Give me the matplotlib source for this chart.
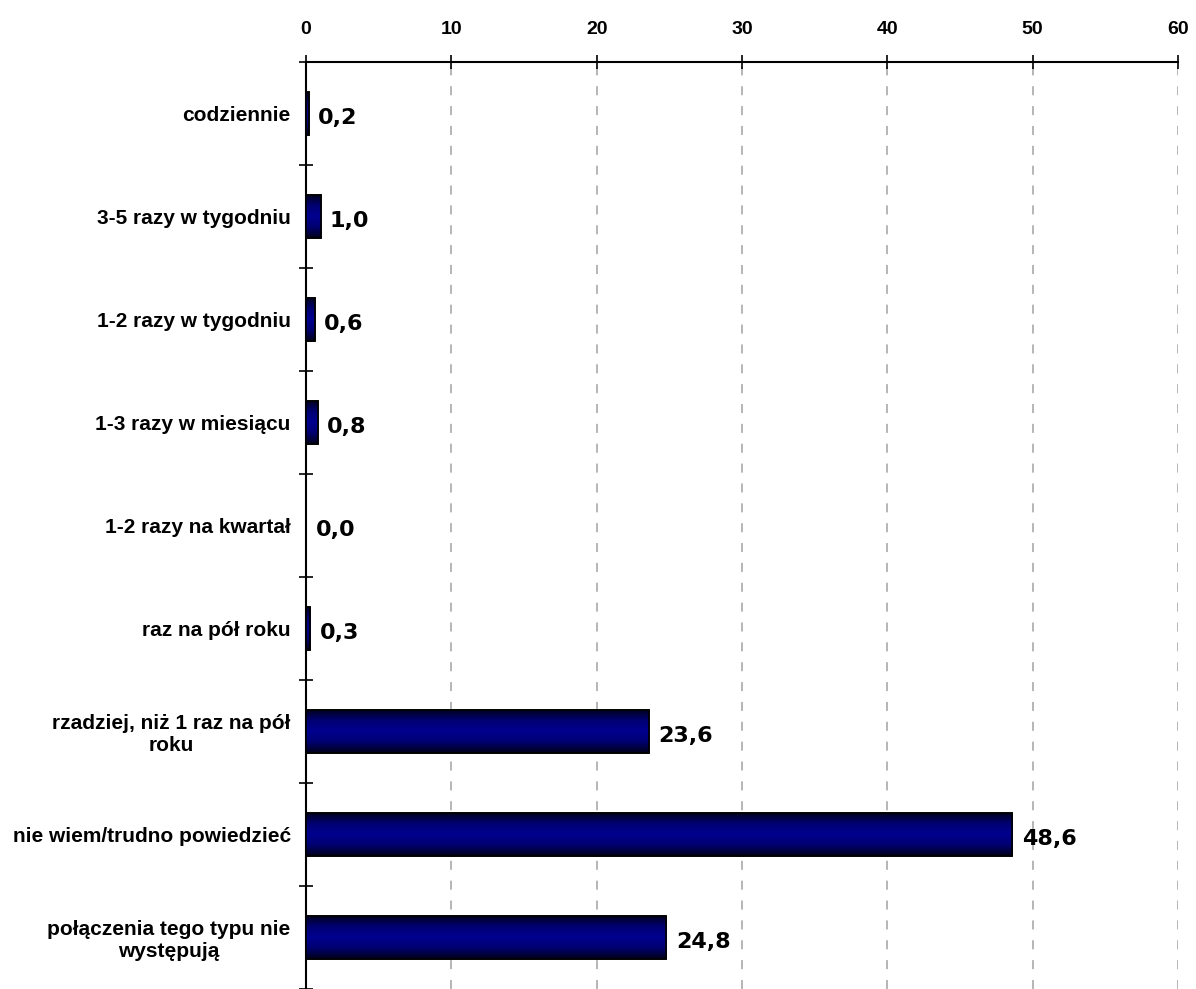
import matplotlib
matplotlib.use("Agg")
import matplotlib.pyplot as plt
import numpy as np
from matplotlib.colors import LinearSegmentedColormap

categories = [
    "codziennie",
    "3-5 razy w tygodniu",
    "1-2 razy w tygodniu",
    "1-3 razy w miesiącu",
    "1-2 razy na kwartał",
    "raz na pół roku",
    "rzadziej, niż 1 raz na pół\nroku",
    "nie wiem/trudno powiedzieć",
    "połączenia tego typu nie\nwystępują",
]
values = [0.2, 1.0, 0.6, 0.8, 0.0, 0.3, 23.6, 48.6, 24.8]
value_labels = ["0,2", "1,0", "0,6", "0,8", "0,0", "0,3", "23,6", "48,6", "24,8"]
xticks = [0, 10, 20, 30, 40, 50, 60]

fig = plt.figure(figsize=(11.96, 9.89), dpi=100)
ax = fig.add_axes([306/1196, 0.0, (1178-306)/1196, 1 - 62/989])

n = len(categories)
ypos = np.arange(n)
bar_h = 0.42

cmap = LinearSegmentedColormap.from_list("navy", ["#000018", "#000070", "#000090", "#000070", "#000018"])
grad = np.linspace(0, 1, 256).reshape(-1, 1)

bars = ax.barh(ypos, values, height=bar_h, color="#000080", edgecolor="black", linewidth=1.2, zorder=3)
for b in bars:
    w = b.get_width()
    if w <= 0:
        continue
    x0, y0 = b.get_x(), b.get_y()
    im = ax.imshow(grad, cmap=cmap, aspect="auto", extent=[x0, x0 + w, y0 + b.get_height(), y0],
                   zorder=3.5, interpolation="bilinear")
    im.set_clip_path(b)
    b2 = plt.Rectangle((x0, y0), w, b.get_height(), fill=False, edgecolor="black", linewidth=1.2, zorder=4)
    ax.add_patch(b2)

for y, v, lab in zip(ypos, values, value_labels):
    ax.text(v + 0.65, y + 0.04, lab, va="center", ha="left", fontsize=16, fontweight="bold",
            family="DejaVu Sans", color="black", zorder=5)

ax.set_xlim(0, 60)
ax.set_ylim(n - 0.5, -0.5)
ax.set_xticks(xticks)
ax.xaxis.tick_top()
ax.tick_params(axis="x", which="major", direction="inout", length=10, width=1.2, pad=12,
               labelsize=14)
for t in ax.get_xticklabels():
    t.set_fontweight("bold")
    t.set_family("Liberation Sans")

ax.set_yticks(ypos)
ax.set_yticklabels(categories, fontsize=15, fontweight="bold", family="Liberation Sans")
ax.tick_params(axis="y", which="major", length=0, pad=11)
ax.set_yticks(np.arange(n + 1) - 0.5, minor=True)
ax.tick_params(axis="y", which="minor", direction="inout", length=10, width=1.2)
for t in ax.get_yticklabels():
    t.set_multialignment("center")

ax.grid(axis="x", color="#b0b0b0", linestyle=(0, (5, 6)), linewidth=1.3, zorder=0)
ax.set_axisbelow(True)

for s in ["right", "bottom"]:
    ax.spines[s].set_visible(False)
ax.spines["top"].set_linewidth(1.5)
ax.spines["left"].set_linewidth(1.5)

fig.savefig("out.png", dpi=100)
